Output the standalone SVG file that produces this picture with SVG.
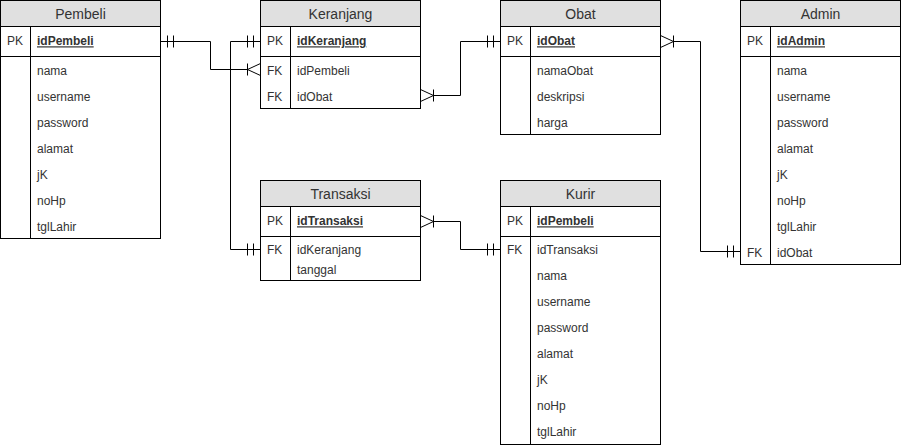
<svg xmlns="http://www.w3.org/2000/svg" width="902" height="447" viewBox="0 0 902 447">
<style>
  .hdr { fill: #e0e0e0; stroke: #000; stroke-width: 1; }
  .body { fill: #fff; stroke: #000; stroke-width: 1; }
  .sep { stroke: #000; stroke-width: 1; fill: none; }
  .title { font-family: "Liberation Sans", Arial, sans-serif; font-size: 14px; fill: #333; text-anchor: middle; }
  .t { font-family: "Liberation Sans", Arial, sans-serif; font-size: 12px; fill: #333; }
  .pk { font-weight: bold; text-decoration: underline; }
  .edge { fill: none; stroke: #000; stroke-width: 1; }
</style>
<defs>
  <marker id="mandOne" viewBox="0 0 20 20" refX="20" refY="10" markerWidth="20" markerHeight="20" markerUnits="userSpaceOnUse" orient="auto-start-reverse" overflow="visible">
    <path d="M13,4 V16 M7,4 V16" fill="none" stroke="#000" stroke-width="1"/>
  </marker>
  <marker id="oneMany" viewBox="0 0 20 20" refX="7" refY="10" markerWidth="20" markerHeight="20" markerUnits="userSpaceOnUse" orient="auto-start-reverse" overflow="visible">
    <path d="M20,4 L7,10 L20,16 M7,4 V16" fill="none" stroke="#000" stroke-width="1"/>
  </marker>
</defs>
<rect width="902" height="447" fill="#fff"/>

<g id="connectors">
  <path class="edge" d="M160.5,41.5 H210.5 V69.5 H247.5" marker-start="url(#mandOne)" marker-end="url(#oneMany)"/>
  <path class="edge" d="M260.5,41.5 H230.5 V249.5 H260.5" marker-start="url(#mandOne)" marker-end="url(#mandOne)"/>
  <path class="edge" d="M433.5,95.5 H460.5 V41.5 H500.5" marker-start="url(#oneMany)" marker-end="url(#mandOne)"/>
  <path class="edge" d="M433.5,221.5 H460.5 V249.5 H500.5" marker-start="url(#oneMany)" marker-end="url(#mandOne)"/>
  <path class="edge" d="M673.5,41.5 H700.5 V251.5 H740.5" marker-start="url(#oneMany)" marker-end="url(#mandOne)"/>
</g>

<g id="pembeli">
  <rect class="body" x="0.5" y="0.5" width="160" height="238"/>
  <rect class="hdr" x="0.5" y="0.5" width="160" height="26"/>
  <path class="sep" d="M0.5,56.5 H160.5 M30.5,26.5 V238.5"/>
  <text class="title" x="80.5" y="18.5">Pembeli</text>
  <text class="t" x="7" y="45.3">PK</text>
  <text class="t pk" x="37" y="45.3">idPembeli</text>
  <text class="t" x="37" y="74.8">nama</text>
  <text class="t" x="37" y="100.8">username</text>
  <text class="t" x="37" y="126.8">password</text>
  <text class="t" x="37" y="152.8">alamat</text>
  <text class="t" x="37" y="178.8">jK</text>
  <text class="t" x="37" y="204.8">noHp</text>
  <text class="t" x="37" y="230.8">tglLahir</text>
</g>

<g id="keranjang">
  <rect class="body" x="260.5" y="0.5" width="160" height="108"/>
  <rect class="hdr" x="260.5" y="0.5" width="160" height="26"/>
  <path class="sep" d="M260.5,56.5 H420.5 M290.5,26.5 V108.5"/>
  <text class="title" x="340.5" y="18.5">Keranjang</text>
  <text class="t" x="267" y="45.3">PK</text>
  <text class="t pk" x="297" y="45.3">idKeranjang</text>
  <text class="t" x="267" y="74.8">FK</text>
  <text class="t" x="297" y="74.8">idPembeli</text>
  <text class="t" x="267" y="100.8">FK</text>
  <text class="t" x="297" y="100.8">idObat</text>
</g>

<g id="obat">
  <rect class="body" x="500.5" y="0.5" width="160" height="134"/>
  <rect class="hdr" x="500.5" y="0.5" width="160" height="26"/>
  <path class="sep" d="M500.5,56.5 H660.5 M530.5,26.5 V134.5"/>
  <text class="title" x="580.5" y="18.5">Obat</text>
  <text class="t" x="507" y="45.3">PK</text>
  <text class="t pk" x="537" y="45.3">idObat</text>
  <text class="t" x="537" y="74.8">namaObat</text>
  <text class="t" x="537" y="100.8">deskripsi</text>
  <text class="t" x="537" y="126.8">harga</text>
</g>

<g id="admin">
  <rect class="body" x="740.5" y="0.5" width="160" height="264"/>
  <rect class="hdr" x="740.5" y="0.5" width="160" height="26"/>
  <path class="sep" d="M740.5,56.5 H900.5 M770.5,26.5 V264.5"/>
  <text class="title" x="820.5" y="18.5">Admin</text>
  <text class="t" x="747" y="45.3">PK</text>
  <text class="t pk" x="777" y="45.3">idAdmin</text>
  <text class="t" x="777" y="74.8">nama</text>
  <text class="t" x="777" y="100.8">username</text>
  <text class="t" x="777" y="126.8">password</text>
  <text class="t" x="777" y="152.8">alamat</text>
  <text class="t" x="777" y="178.8">jK</text>
  <text class="t" x="777" y="204.8">noHp</text>
  <text class="t" x="777" y="230.8">tglLahir</text>
  <text class="t" x="747" y="256.8">FK</text>
  <text class="t" x="777" y="256.8">idObat</text>
</g>

<g id="transaksi">
  <rect class="body" x="260.5" y="180.5" width="160" height="100"/>
  <rect class="hdr" x="260.5" y="180.5" width="160" height="26"/>
  <path class="sep" d="M260.5,236.5 H420.5 M290.5,206.5 V280.5"/>
  <text class="title" x="340.5" y="198.5">Transaksi</text>
  <text class="t" x="267" y="225.3">PK</text>
  <text class="t pk" x="297" y="225.3">idTransaksi</text>
  <text class="t" x="267" y="254.3">FK</text>
  <text class="t" x="297" y="254.3">idKeranjang</text>
  <text class="t" x="297" y="273.8">tanggal</text>
</g>

<g id="kurir">
  <rect class="body" x="500.5" y="180.5" width="160" height="264"/>
  <rect class="hdr" x="500.5" y="180.5" width="160" height="26"/>
  <path class="sep" d="M500.5,236.5 H660.5 M530.5,206.5 V444.5"/>
  <text class="title" x="580.5" y="198.5">Kurir</text>
  <text class="t" x="507" y="225.3">PK</text>
  <text class="t pk" x="537" y="225.3">idPembeli</text>
  <text class="t" x="507" y="254.3">FK</text>
  <text class="t" x="537" y="254.3">idTransaksi</text>
  <text class="t" x="537" y="280.3">nama</text>
  <text class="t" x="537" y="306.3">username</text>
  <text class="t" x="537" y="332.3">password</text>
  <text class="t" x="537" y="358.3">alamat</text>
  <text class="t" x="537" y="384.3">jK</text>
  <text class="t" x="537" y="410.3">noHp</text>
  <text class="t" x="537" y="436.3">tglLahir</text>
</g>
</svg>
